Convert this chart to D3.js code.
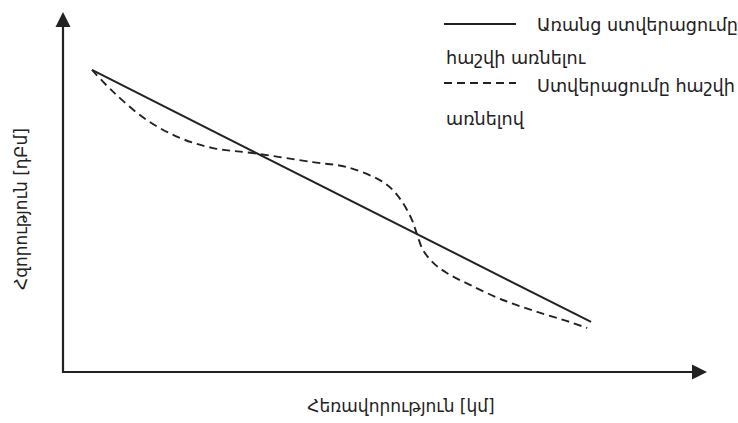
<!DOCTYPE html>
<html>
<head>
<meta charset="utf-8">
<script src="https://cdn.jsdelivr.net/npm/d3@7"></script>
<style>
  body { margin: 0; background: #fff; }
  svg text { font-family: "DejaVu Sans", "Noto Sans", sans-serif; fill: #222; }
</style>
</head>
<body>
<div id="chart"></div>
<script>
// Values (arbitrary units, 0..100 on both axes)
var solidX = [4.5, 82.0];
var solidY = [83.9, 13.9];

var dashedX = [4.5, 7.8, 13.0, 18.2, 23.3, 29.5, 38.8, 44.1,
               49.2, 51.2, 52.8, 54.2, 55.0, 55.9, 57.5, 59.6, 63.2, 68.3, 73.6, 78.7, 81.4];
var dashedY = [83.9, 77.8, 70.0, 65.0, 62.2, 60.8, 58.3, 56.9,
               53.3, 50.6, 46.9, 42.2, 38.1, 33.9, 30.3, 27.5, 24.2, 20.0, 16.7, 13.9, 12.2];

var legendLines = [
    ["Առանց ստվերացումը", "հաշվի առնելու"],
    ["Ստվերացումը հաշվի", "առնելով"]
];
var xTitle = "Հեռավորություն [կմ]";
var yTitle = "Հզորություն [դԲմ]";

var width = 738, height = 423;
var margin = {top: 12, right: 31, bottom: 51, left: 63};
var ink = "#222";

var svg = d3.select("#chart").append("svg")
    .attr("width", width)
    .attr("height", height);

var x = d3.scaleLinear().domain([0, 100]).range([margin.left, width - margin.right]);
var y = d3.scaleLinear().domain([0, 100]).range([height - margin.bottom, margin.top]);

// axes with arrow heads
var x0 = x(0), y0 = y(0);
svg.append("line")
    .attr("x1", x0).attr("y1", y0)
    .attr("x2", x(100) - 12).attr("y2", y0)
    .attr("stroke", ink).attr("stroke-width", 2.2);
svg.append("line")
    .attr("x1", x0).attr("y1", y0 + 1.1)
    .attr("x2", x0).attr("y2", y(100) + 12)
    .attr("stroke", ink).attr("stroke-width", 2.2);
svg.append("path")
    .attr("d", "M" + x(100) + "," + y0 + "L" + (x(100) - 15) + "," + (y0 - 7.5) + "L" + (x(100) - 15) + "," + (y0 + 7.5) + "Z")
    .attr("fill", ink);
svg.append("path")
    .attr("d", "M" + x0 + "," + y(100) + "L" + (x0 - 7.5) + "," + (y(100) + 15) + "L" + (x0 + 7.5) + "," + (y(100) + 15) + "Z")
    .attr("fill", ink);

// series
var solidData = solidX.map((d, i) => [d, solidY[i]]);
var dashedData = dashedX.map((d, i) => [d, dashedY[i]]);

var line = d3.line()
    .x(d => x(d[0]))
    .y(d => y(d[1]))
    .curve(d3.curveCatmullRom.alpha(0.5));

svg.append("path")
    .datum(solidData)
    .attr("d", line)
    .attr("fill", "none")
    .attr("stroke", ink)
    .attr("stroke-width", 2);

svg.append("path")
    .datum(dashedData)
    .attr("d", line)
    .attr("fill", "none")
    .attr("stroke", ink)
    .attr("stroke-width", 1.9)
    .attr("stroke-dasharray", "8,5");

// legend
var legend = svg.append("g").attr("font-size", 17.6);
var rowTop = [24, 85];
legendLines.forEach((lines, i) => {
    legend.append("line")
        .attr("x1", 444).attr("x2", 516)
        .attr("y1", rowTop[i] - (i === 1 ? 2 : 0)).attr("y2", rowTop[i] - (i === 1 ? 2 : 0))
        .attr("stroke", ink)
        .attr("stroke-width", 2)
        .attr("stroke-dasharray", i === 1 ? "8,5" : null);
    legend.append("text")
        .attr("x", 537).attr("y", rowTop[i] + 7)
        .text(lines[0]);
    legend.append("text")
        .attr("x", 446).attr("y", rowTop[i] + 40)
        .text(lines[1]);
});

// axis titles
svg.append("text")
    .attr("x", 401).attr("y", 412)
    .attr("text-anchor", "middle")
    .attr("font-size", 17)
    .text(xTitle);

svg.append("text")
    .attr("transform", "translate(27,209) rotate(-90)")
    .attr("text-anchor", "middle")
    .attr("font-size", 17)
    .text(yTitle);
</script>
</body>
</html>
